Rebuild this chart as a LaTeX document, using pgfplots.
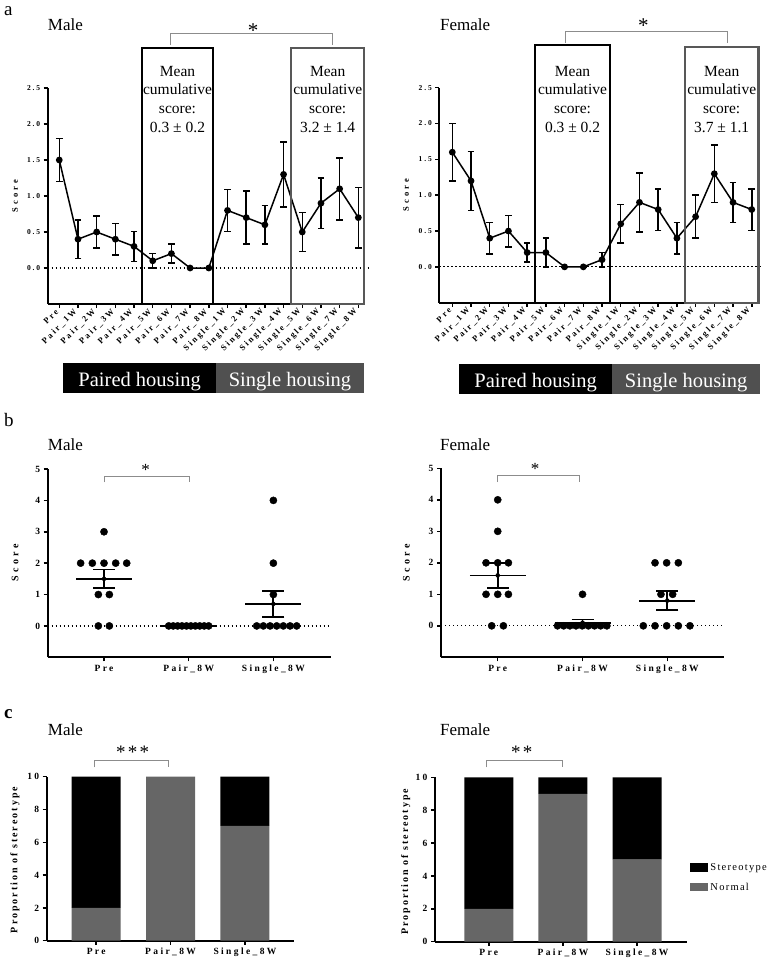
\documentclass[border=0pt]{standalone}
\usepackage{pgfplots}
\pgfplotsset{compat=1.18}
\usepackage{fontspec}
\setmainfont{Liberation Serif}
\newfontfamily\tfA{Liberation Serif}[LetterSpace=25]
\newfontfamily\tfB{Liberation Serif}[LetterSpace=35]
\newfontfamily\tfC{Liberation Serif}[LetterSpace=20]
\newfontfamily\tfL{Liberation Serif}[LetterSpace=12]

\definecolor{bargray}{RGB}{102,102,102}
\definecolor{boxgray}{RGB}{88,88,88}
\definecolor{housegray}{RGB}{80,80,80}
\definecolor{brgray}{RGB}{140,140,140}

\pgfplotsset{
  base/.style={scale only axis, clip=false, anchor=south west,
    axis x line=bottom, axis y line=left,
    axis line style={-, line width=1.8pt},
    tick align=outside, major tick length=4pt,
    tick style={line width=1.5pt, black}},
  pa/.style={base, ymin=-0.5, ymax=2.5,
    ytick={0,0.5,1,1.5,2,2.5}, yticklabels={0.0,0.5,1.0,1.5,2.0,2.5},
    xtick={0,...,16},
    xticklabels={Pre,Pair\_1W,Pair\_2W,Pair\_3W,Pair\_4W,Pair\_5W,Pair\_6W,Pair\_7W,Pair\_8W,
      Single\_1W,Single\_2W,Single\_3W,Single\_4W,Single\_5W,Single\_6W,Single\_7W,Single\_8W},
    xticklabel style={rotate=45, anchor=east, font=\tfA\bfseries\fontsize{8.5}{9}\selectfont},
    yticklabel style={font=\tfA\bfseries\fontsize{7.5}{8}\selectfont}},
  pb/.style={base, ymin=-1, ymax=5, ytick={0,...,5}, yticklabels={0,1,2,3,4,5},
    xtick={0,1,2}, xticklabels={Pre,Pair\_8W,Single\_8W},
    ticklabel style={font=\tfA\bfseries\fontsize{9.5}{10}\selectfont}},
  pc/.style={base, ymin=0, ymax=10, ytick={0,2,...,10}, yticklabels={0,2,4,6,8,10},
    xtick={0,1,2}, xticklabels={Pre,Pair\_8W,Single\_8W},
    ticklabel style={font=\tfA\bfseries\fontsize{9.5}{10}\selectfont},
    ybar stacked, bar width=49pt},
  eb/.style={black, line width=1.5pt, mark=*, mark size=2.6pt,
    error bars/.cd, y dir=both, y explicit,
    error bar style={line width=1.5pt},
    error mark options={rotate=90, line width=1.5pt, mark size=3.3pt}},
  sem/.style={only marks, mark=none,
    error bars/.cd, y dir=both, y explicit,
    error bar style={line width=1.8pt, black},
    error mark options={rotate=90, line width=1.8pt, mark size=11pt, black}},
}

\begin{document}
\begin{tikzpicture}
\path[use as bounding box] (0pt,0pt) rectangle (767pt,-964pt);

% ---------- a, Male
\begin{axis}[pa, at={(47.7pt,-304pt)}, width=317pt, height=216pt, xmin=-0.62, xmax=16.34]
\draw[dash pattern=on 1.2pt off 2.8pt, line width=1.2pt] (axis cs:-0.62,0) -- (axis cs:16.55,0);
\addplot[eb] coordinates {
  (0,1.5) +- (0,0.3)   (1,0.4) +- (0,0.27)  (2,0.5) +- (0,0.22)  (3,0.4) +- (0,0.22)
  (4,0.3) +- (0,0.21)  (5,0.1) +- (0,0.1)   (6,0.2) +- (0,0.13)  (7,0) +- (0,0)
  (8,0) +- (0,0)       (9,0.8) +- (0,0.29)  (10,0.7) +- (0,0.37) (11,0.6) +- (0,0.27)
  (12,1.3) +- (0,0.45) (13,0.5) +- (0,0.27) (14,0.9) +- (0,0.35) (15,1.1) +- (0,0.43)
  (16,0.7) +- (0,0.42)};
\draw[line width=2.2pt] (axis cs:4.41,-0.5) rectangle (axis cs:8.24,3.056);
\draw[boxgray, line width=2.2pt] (axis cs:12.4,-0.5) rectangle (axis cs:16.32,3.056);
\end{axis}

% ---------- a, Female
\begin{axis}[pa, at={(439.3pt,-302.7pt)}, width=319pt, height=215pt, xmin=-0.695, xmax=16.35]
\draw[dash pattern=on 1.2pt off 2.8pt, line width=1.2pt] (axis cs:-0.695,0) -- (axis cs:16.5,0);
\addplot[eb] coordinates {
  (0,1.6) +- (0,0.4)   (1,1.2) +- (0,0.41)  (2,0.4) +- (0,0.22)  (3,0.5) +- (0,0.22)
  (4,0.2) +- (0,0.13)  (5,0.2) +- (0,0.2)   (6,0) +- (0,0)       (7,0) +- (0,0)
  (8,0.1) +- (0,0.1)   (9,0.6) +- (0,0.27)  (10,0.9) +- (0,0.41) (11,0.8) +- (0,0.29)
  (12,0.4) +- (0,0.22) (13,0.7) +- (0,0.3)  (14,1.3) +- (0,0.4)  (15,0.9) +- (0,0.28)
  (16,0.8) +- (0,0.29)};
\draw[line width=2.2pt] (axis cs:4.42,-0.5) rectangle (axis cs:8.43,3.10);
\draw[boxgray, line width=2.2pt] (axis cs:12.44,-0.5) rectangle (axis cs:16.36,3.07);
\end{axis}

% ---------- b, Male
\begin{axis}[pb, at={(47.7pt,-657.3pt)}, width=283pt, height=188.3pt, xmin=-0.665, xmax=2.677]
\draw[dash pattern=on 1.2pt off 2.8pt, line width=1.2pt] (axis cs:-0.665,0) -- (axis cs:2.677,0);
\addplot[only marks, mark=*, mark size=3.6pt, black] coordinates {
  (0,3) (-0.276,2) (-0.138,2) (0,2) (0.138,2) (0.268,2) (-0.067,1) (0.063,1) (-0.067,0) (0.063,0)
  (0.764,0) (0.817,0) (0.869,0) (0.921,0) (0.974,0) (1.026,0) (1.079,0) (1.131,0) (1.183,0) (1.236,0)
  (2,4) (2,2) (2,1) (1.803,0) (1.882,0) (1.961,0) (2.039,0) (2.118,0) (2.197,0) (2.275,0)};
\addplot[black, line width=1.8pt] coordinates {(-0.33,1.5) (0.33,1.5)};
\addplot[black, line width=1.8pt] coordinates {(0.67,0) (1.33,0)};
\addplot[black, line width=1.8pt] coordinates {(1.67,0.7) (2.33,0.7)};
\addplot[sem] coordinates {(0,1.5) +- (0,0.3) (2,0.7) +- (0,0.42)};
\end{axis}

% ---------- b, Female
\begin{axis}[pb, at={(441pt,-657.3pt)}, width=283.3pt, height=189pt, xmin=-0.669, xmax=2.672]
\draw[dash pattern=on 1.2pt off 2.8pt, line width=1.2pt] (axis cs:-0.669,0) -- (axis cs:2.672,0);
\addplot[only marks, mark=*, mark size=3.6pt, black] coordinates {
  (0,4) (0,3) (-0.138,2) (0,2) (0.126,2) (-0.138,1) (0,1) (0.126,1) (-0.071,0) (0.067,0)
  (1,1) (0.705,0) (0.778,0) (0.851,0) (0.923,0) (0.996,0) (1.069,0) (1.142,0) (1.214,0) (1.287,0)
  (1.855,2) (1.992,2) (2.13,2) (1.925,1) (2.063,1)
  (1.717,0) (1.855,0) (1.992,0) (2.13,0) (2.267,0)};
\addplot[black, line width=1.8pt] coordinates {(-0.33,1.6) (0.33,1.6)};
\addplot[black, line width=1.8pt] coordinates {(0.67,0.1) (1.33,0.1)};
\addplot[black, line width=1.8pt] coordinates {(1.67,0.8) (2.33,0.8)};
\addplot[sem] coordinates {(0,1.6) +- (0,0.4) (1,0.1) +- (0,0.1) (2,0.8) +- (0,0.3)};
\end{axis}

% ---------- c, Male
\begin{axis}[pc, at={(46.7pt,-940.7pt)}, width=247.3pt, height=164pt, xmin=-0.665, xmax=2.659]
\addplot[fill=bargray, draw=none] coordinates {(0,2) (1,10) (2,7)};
\addplot[fill=black, draw=none] coordinates {(0,8) (1,0) (2,3)};
\end{axis}

% ---------- c, Female
\begin{axis}[pc, at={(435pt,-941.7pt)}, width=251.7pt, height=164.4pt, xmin=-0.726, xmax=2.67,
  legend style={at={(1.013,0.49)}, anchor=north west, draw=none, fill=none,
    inner sep=0pt, row sep=7pt, font=\tfL\fontsize{10.5}{11}\selectfont,
    /tikz/every even column/.append style={column sep=4pt}},
  legend cell align=left, reverse legend]
\addplot[fill=bargray, draw=none,
  legend image code/.code={\fill[bargray] (0pt,-4.3pt) rectangle (18.3pt,4.3pt);}]
  coordinates {(0,2) (1,9) (2,5)};
\addlegendentry{Normal}
\addplot[fill=black, draw=none,
  legend image code/.code={\fill[black] (0pt,-4.3pt) rectangle (18.3pt,4.3pt);}]
  coordinates {(0,8) (1,1) (2,5)};
\addlegendentry{Stereotype}
\end{axis}

% ---------- annotations
\begin{scope}[x=1pt, y=-1pt]
% panel letters and titles
\node[anchor=base west, inner sep=0, font=\fontsize{19}{22}\selectfont] at (4,15) {a};
\node[anchor=base west, inner sep=0, font=\fontsize{17}{20}\selectfont] at (47.7,30) {Male};
\node[anchor=base west, inner sep=0, font=\fontsize{17}{20}\selectfont] at (440,30) {Female};
\node[anchor=base west, inner sep=0, font=\fontsize{19}{22}\selectfont] at (4,426) {b};
\node[anchor=base west, inner sep=0, font=\fontsize{17}{20}\selectfont] at (47.7,450) {Male};
\node[anchor=base west, inner sep=0, font=\fontsize{17}{20}\selectfont] at (440,450) {Female};
\node[anchor=base west, inner sep=0, font=\bfseries\fontsize{19}{22}\selectfont] at (4,718.3) {c};
\node[anchor=base west, inner sep=0, font=\fontsize{17}{20}\selectfont] at (47.7,735) {Male};
\node[anchor=base west, inner sep=0, font=\fontsize{17}{20}\selectfont] at (440,735) {Female};

% box texts in a
\begin{scope}[every node/.style={anchor=base, inner sep=0, font=\fontsize{15.5}{18}\selectfont}]
\node at (177.5,76) {Mean}; \node at (177.5,94.9) {cumulative};
\node at (177.5,113.8) {score:}; \node at (177.5,132.7) {0.3 ± 0.2};
\node at (327.7,76) {Mean}; \node at (327.7,94.9) {cumulative};
\node at (327.7,113.8) {score:}; \node at (327.7,132.7) {3.2 ± 1.4};
\node at (572.5,76) {Mean}; \node at (572.5,94.9) {cumulative};
\node at (572.5,113.8) {score:}; \node at (572.5,132.7) {0.3 ± 0.2};
\node at (721.7,76) {Mean}; \node at (721.7,94.9) {cumulative};
\node at (721.7,113.8) {score:}; \node at (721.7,132.7) {3.7 ± 1.1};
\end{scope}

% housing bars
\fill[black] (63.3,363.3) rectangle (216,393.3);
\fill[housegray] (216,363.3) rectangle (364,393.3);
\fill[black] (459,364.3) rectangle (612.3,394);
\fill[housegray] (612.3,364.3) rectangle (760,394);
\begin{scope}[every node/.style={anchor=base, inner sep=0, text=white, font=\fontsize{20.5}{24}\selectfont}]
\node at (139.7,386.7) {Paired housing};
\node at (290,386.7) {Single housing};
\node at (535.7,387.2) {Paired housing};
\node at (686.2,387.2) {Single housing};
\end{scope}

% significance brackets
\draw[brgray, line width=0.9pt] (170.7,45) -- (170.7,33.3) -- (332.3,33.3) -- (332.3,45);
\draw[brgray, line width=0.9pt] (565.7,42.7) -- (565.7,31.7) -- (727.3,31.7) -- (727.3,42.7);
\draw[brgray, line width=0.9pt] (104,482.3) -- (104,476.7) -- (189.3,476.7) -- (189.3,482.3);
\draw[brgray, line width=0.9pt] (497.7,482) -- (497.7,475) -- (579.3,475) -- (579.3,482);
\draw[brgray, line width=0.9pt] (94.7,767.3) -- (94.7,760.7) -- (168.3,760.7) -- (168.3,767.3);
\draw[brgray, line width=0.9pt] (486.7,767.3) -- (486.7,760.7) -- (562.3,760.7) -- (562.3,767.3);
\node[anchor=base, inner sep=0, font=\fontsize{21}{24}\selectfont] at (253,37) {*};
\node[anchor=base, inner sep=0, font=\fontsize{21}{24}\selectfont] at (643.3,32) {*};
\node[anchor=base, inner sep=0, font=\fontsize{17}{20}\selectfont] at (145.7,475.5) {*};
\node[anchor=base, inner sep=0, font=\fontsize{17}{20}\selectfont] at (535,474.5) {*};
\node[anchor=base, inner sep=0, font=\tfL\fontsize{19}{22}\selectfont] at (132.7,758) {***};
\node[anchor=base, inner sep=0, font=\tfL\fontsize{19}{22}\selectfont] at (521.7,758) {**};

% y axis titles
\node[rotate=90, inner sep=0, font=\tfB\bfseries\fontsize{8.5}{10}\selectfont] at (15,196) {Score};
\node[rotate=90, inner sep=0, font=\tfB\bfseries\fontsize{8.5}{10}\selectfont] at (406,195) {Score};
\node[rotate=90, inner sep=0, font=\tfB\bfseries\fontsize{10}{12}\selectfont] at (15,563) {Score};
\node[rotate=90, inner sep=0, font=\tfB\bfseries\fontsize{10}{12}\selectfont] at (406.3,563) {Score};
\node[rotate=90, inner sep=0, font=\tfC\bfseries\fontsize{10}{12}\selectfont] at (15,860) {Proportion of stereotype};
\node[rotate=90, inner sep=0, font=\tfC\bfseries\fontsize{10}{12}\selectfont] at (405.7,861.7) {Proportion of stereotype};
\end{scope}
\end{tikzpicture}
\end{document}
